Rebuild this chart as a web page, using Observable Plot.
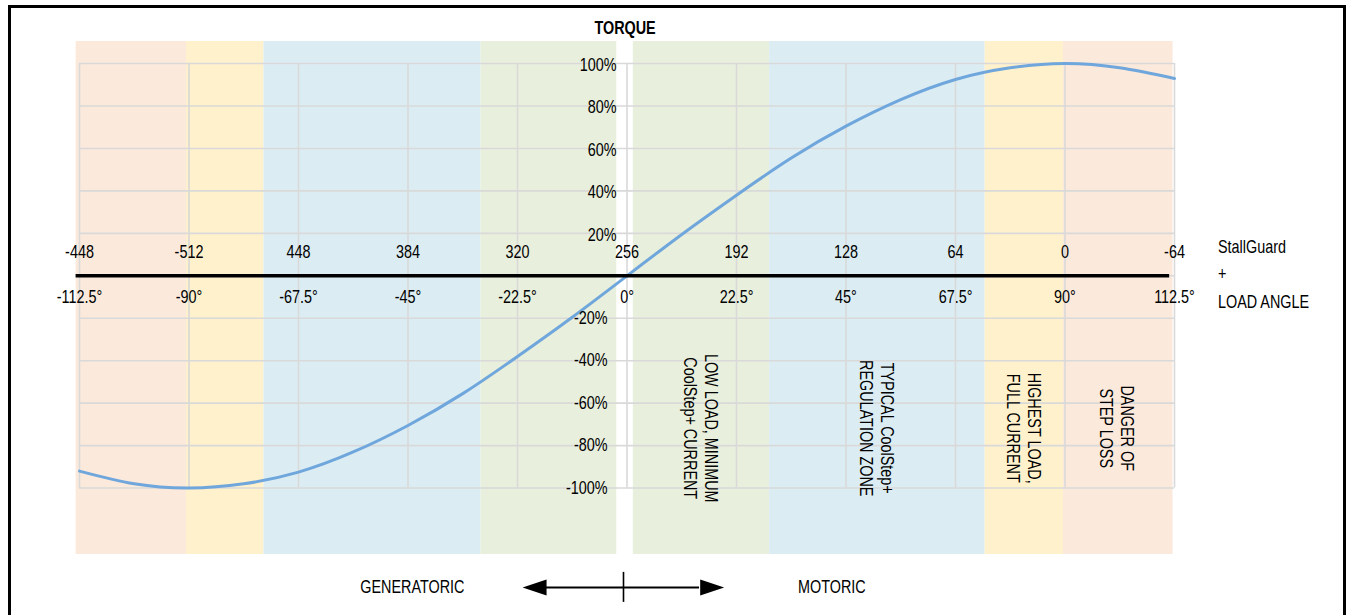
<!DOCTYPE html>
<html><head><meta charset="utf-8">
<script src="https://cdn.jsdelivr.net/npm/d3@7"></script>
<script src="https://cdn.jsdelivr.net/npm/@observablehq/plot@0.6"></script>
<style>
html,body{margin:0;padding:0;background:#fff;overflow:hidden;}
#wrap{position:relative;width:1353px;height:615px;}
#border{position:absolute;left:8px;top:5px;width:1338px;height:700px;border:3px solid #000;box-sizing:border-box;}
#chart{position:absolute;left:0;top:0;}
</style></head>
<body><div id="wrap"><div id="chart"></div><div id="border"></div></div>
<script>
// ---- data ----
const angleTicks = [-112.5, -90, -67.5, -45, -22.5, 0, 22.5, 45, 67.5, 90, 112.5];
const angleLabels = ["-112.5°", "-90°", "-67.5°", "-45°", "-22.5°", "0°", "22.5°", "45°", "67.5°", "90°", "112.5°"];
const stallGuardLabels = ["-448", "-512", "448", "384", "320", "256", "192", "128", "64", "0", "-64"];
const torqueGrid = [1, 0.8, 0.6, 0.4, 0.2, 0, -0.2, -0.4, -0.6, -0.8, -1];
const torquePos = [1, 0.8, 0.6, 0.4, 0.2];
const torquePosLabels = ["100%", "80%", "60%", "40%", "20%"];
const torqueNeg = [-0.2, -0.4, -0.6, -0.8, -1];
const torqueNegLabels = ["-20%", "-40%", "-60%", "-80%", "-100%"];

const curveAngle = [-112.5, -101.25, -90, -78.75, -67.5, -56.25, -45, -33.75, -22.5, -11.25, 0, 11.25, 22.5, 33.75, 45, 56.25, 67.5, 78.75, 90, 101.25, 112.5];
const curveTorque = [-0.92, -0.98, -1.0, -0.98, -0.925, -0.83, -0.705, -0.555, -0.38, -0.195, 0, 0.195, 0.38, 0.555, 0.705, 0.83, 0.925, 0.98, 1.0, 0.98, 0.93];

const bandStart = [-113.2, -90.5, -74.6, -30.0, 1.3, 29.3, 73.6, 89.7];
const bandEnd = [-90.5, -74.6, -30.0, -2.1, 29.3, 73.6, 89.7, 112.2];
const bandColors = ["#fbe9dc", "#fff1cc", "#dbedf3", "#e8efdc", "#e8efdc", "#dbedf3", "#fff1cc", "#fbe9dc"];

const zoneLabels = ["LOW LOAD, MINIMUM\nCoolStep+ CURRENT", "TYPICAL CoolStep+\nREGULATION ZONE", "HIGHEST LOAD,\nFULL CURRENT", "DANGER OF\nSTEP LOSS"];
const zoneX = [15.3, 51.4, 81.6, 100.8];

const rightLabels = ["StallGuard", "+", "LOAD ANGLE"];
const rightY = [0.136, 0.008, -0.123];

const directionLabels = ["GENERATORIC", "MOTORIC"];
const directionX = [-44.1, 42.1];

const FONT = "'Liberation Sans',Arial,sans-serif";
const FS = 18;
const SQUEEZE = 0.8; // narrow face emulation

const leftHead = {draw(ctx){ctx.moveTo(-12,0);ctx.lineTo(12,-8);ctx.lineTo(12,8);ctx.closePath();}};
const rightHead = {draw(ctx){ctx.moveTo(12,0);ctx.lineTo(-12,-8);ctx.lineTo(-12,8);ctx.closePath();}};

const bandIdx = bandStart.map((_, i) => i);
const curve = curveAngle.map((a, i) => ({a, t: curveTorque[i]}));

const gridColor = "#d9d9d9";
const bottomY = -1.468;

const chart = Plot.plot({
  width: 1353, height: 615,
  marginLeft: 79, marginRight: 179, marginTop: 41, marginBottom: 61,
  x: {domain: [-112.5, 112.5], axis: null},
  y: {domain: [-1.313, 1.104], axis: null},
  color: {type: "identity"},
  style: {fontFamily: FONT, fontSize: FS + "px", background: "transparent", color: "#000"},
  marks: [
    Plot.rect(bandIdx, {x1: i => bandStart[i], x2: i => bandEnd[i], y1: -1.313, y2: 1.104, fill: i => bandColors[i]}),
    Plot.ruleX(angleTicks, {x: d => d, y1: -1, y2: 1, stroke: gridColor, strokeWidth: 1.6}),
    Plot.ruleY(torqueGrid, {y: d => d, x1: -112.5, x2: 112.5, stroke: gridColor, strokeWidth: 1.6}),
    Plot.line(curve, {x: "a", y: "t", stroke: "#6fa6dc", strokeWidth: 3, curve: "natural"}),
    Plot.ruleY([0], {x1: -113.2, x2: 111.5, stroke: "#000", strokeWidth: 3.5}),
    Plot.text(angleTicks, {x: d => d, y: 0, text: (d, i) => stallGuardLabels[i], dy: -23.5, fontSize: FS}),
    Plot.text(angleTicks, {x: d => d, y: 0, text: (d, i) => angleLabels[i], dy: 21.5, fontSize: FS}),
    Plot.text(torquePos, {x: 0, y: d => d, text: (d, i) => torquePosLabels[i], textAnchor: "end", dx: -10.5, dy: 1.5, fontSize: FS}),
    Plot.text(torqueNeg, {x: 0, y: d => d, text: (d, i) => torqueNegLabels[i], textAnchor: "end", dx: -19.5, fontSize: FS}),
    Plot.text(zoneX, {x: d => d, y: -0.718, text: (d, i) => zoneLabels[i], rotate: 90, lineHeight: 1.17, fontSize: FS}),
    Plot.text(["TORQUE"], {x: -0.4, y: 1.165, text: d => d, fontWeight: "bold", fontSize: FS}),
    Plot.text(rightLabels, {x: 112.5, y: (d, i) => rightY[i], text: d => d, textAnchor: "start", dx: 43.5, fontSize: FS}),
    Plot.text(directionLabels, {x: (d, i) => directionX[i], y: bottomY, text: d => d, fontSize: FS}),
    Plot.ruleY([bottomY], {x1: -16.6, x2: 14.9, stroke: "#000", strokeWidth: 2}),
    Plot.ruleX([-0.72], {x: d => d, y1: bottomY + 0.0707, y2: bottomY - 0.0707, stroke: "#000", strokeWidth: 1.6}),
    Plot.dot([-19.0], {x: d => d, y: bottomY, symbol: leftHead, fill: "#000", stroke: "none"}),
    Plot.dot([17.5], {x: d => d, y: bottomY, symbol: rightHead, fill: "#000", stroke: "none"})
  ]
});

// Emulate the narrow face of the original (no narrow font installed):
// Plot positions each text via its transform, so append a horizontal squeeze.
chart.querySelectorAll("text").forEach(t => {
  const tr = t.getAttribute("transform") || "";
  t.setAttribute("transform", `${tr} scale(${SQUEEZE},1)`);
});
document.getElementById("chart").appendChild(chart);
</script></body></html>
